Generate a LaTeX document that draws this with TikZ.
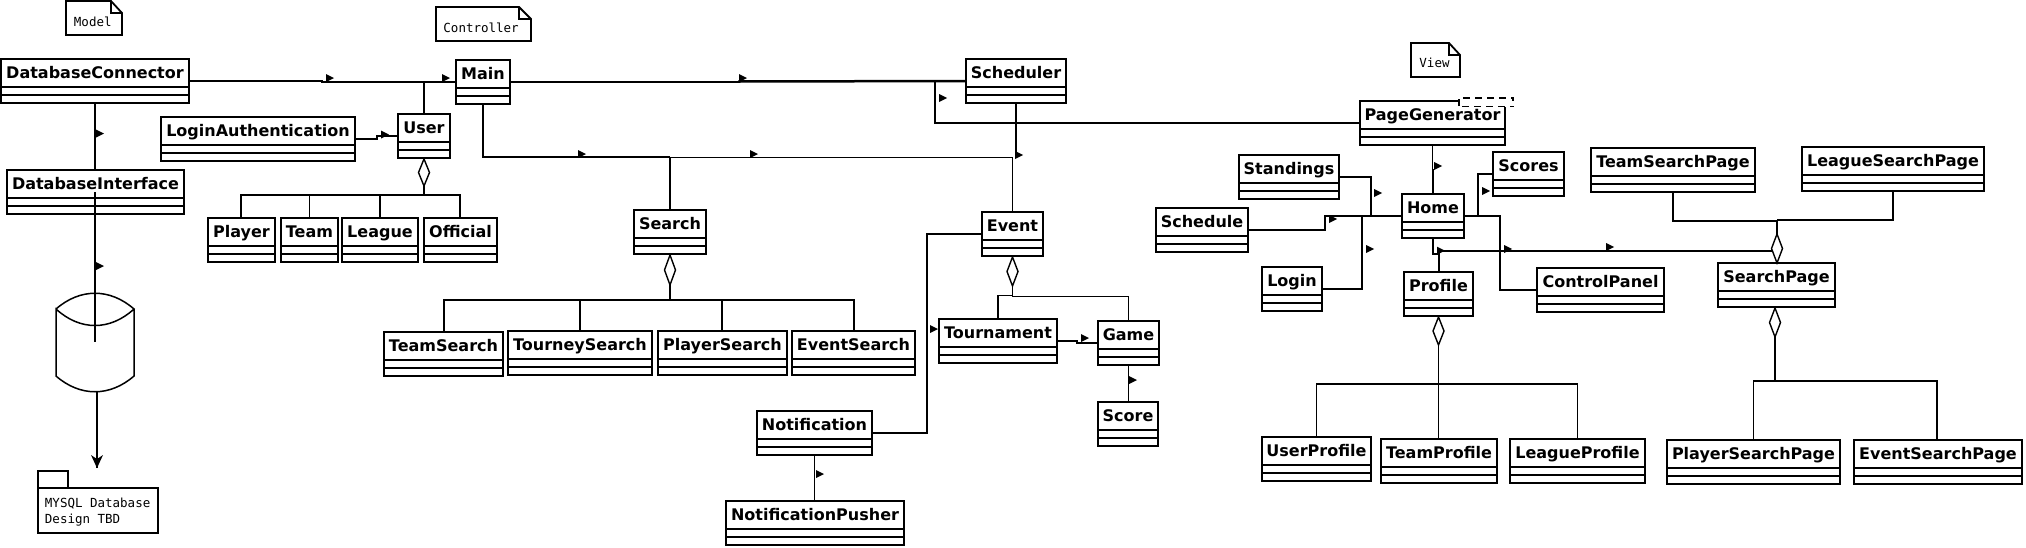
\documentclass[tikz,border=0pt]{standalone}
\usepackage{fontspec}
\setmainfont{DejaVu Sans}
\setmonofont{DejaVu Sans Mono}
\tikzset{
  x=1pt,y=-1pt,
  every path/.style={line width=1.9pt,line join=miter},
  shell/.style={draw,rectangle,inner sep=0pt,outer sep=0pt,line width=1.9pt},
  titletext/.style={inner sep=0pt,anchor=base,font=\fontsize{16}{18}\selectfont\bfseries},
  monotext/.style={inner sep=0pt,anchor=base west,font=\fontsize{12.5}{14}\selectfont\ttfamily},
  link/.style={draw,line width=1.9pt},
  heavylink/.style={draw,line width=2.5pt},
  dia/.style={draw,fill=white,line width=1.4pt},
}
% class box: name, x1, y1, x2, y2, title
\newcommand{\umlclass}[6]{%
  \pgfmathsetmacro{\cxx}{(#2+#4)/2}%
  \pgfmathsetmacro{\cyy}{(#3+#5)/2}%
  \pgfmathsetmacro{\wdd}{#4-#2}%
  \pgfmathsetmacro{\htt}{#5-#3}%
  \pgfmathsetmacro{\lna}{#3+28}%
  \pgfmathsetmacro{\lnb}{#3+36}%
  \pgfmathsetmacro{\bas}{#3+19}%
  \node[shell,minimum width=\wdd pt,minimum height=\htt pt] (#1) at (\cxx,\cyy) {};
  \draw[line width=1.9pt] (#2,\lna) -- (#4,\lna) (#2,\lnb) -- (#4,\lnb);
  \node[titletext] (#1-t) at (\cxx,\bas) {#6};
}
% small association arrowhead
\newcommand{\tip}[2]{\fill (#1-4,#2-4) -- (#1+4,#2) -- (#1-4,#2+4) -- cycle;}
% aggregation diamond: cx, top y, bottom y
\newcommand{\aggr}[3]{\pgfmathsetmacro{\ymm}{(#2+#3)/2}\draw[dia] (#1,#2) -- (#1+5.5,\ymm) -- (#1,#3) -- (#1-5.5,\ymm) -- cycle;}
% note: x1,y1,x2,y2,fold x,fold y
\newcommand{\umlnote}[6]{\draw[line width=1.8pt] (#1,#2) -- (#5,#2) -- (#3,#6) -- (#3,#4) -- (#1,#4) -- cycle (#5,#2) -- (#5,#6) -- (#3,#6);}
\begin{document}
\begin{tikzpicture}
\useasboundingbox (0,0) rectangle (2026,547);
% notes
\umlnote{66}{1}{122}{35}{111}{13}
\node[monotext] (nmodel) at (73,26) {Model};
\umlnote{436}{7}{531}{41}{519}{19}
\node[monotext] (nctrl) at (442.5,32) {Controller};
\umlnote{1411}{43}{1460}{77}{1449}{55}
\node[monotext] (nview) at (1418.5,67) {View};
% classes
\umlclass{dc}{1}{59}{189}{103}{DatabaseConnector}
\umlclass{di}{7}{170}{184}{214}{DatabaseInterface}
\umlclass{la}{161}{117}{355}{161}{LoginAuthentication}
\umlclass{user}{398}{114}{450}{158}{User}
\umlclass{main}{456}{60}{510}{104}{Main}
\umlclass{player}{208}{218}{275}{262}{Player}
\umlclass{team}{281}{218}{338}{262}{Team}
\umlclass{league}{342}{218}{418}{262}{League}
\umlclass{official}{424}{218}{497}{262}{Official}
\umlclass{search}{634}{210}{706}{254}{Search}
\umlclass{teams}{384}{332}{503}{376}{TeamSearch}
\umlclass{tourneys}{508}{331}{652}{375}{TourneySearch}
\umlclass{players}{658}{331}{787}{375}{PlayerSearch}
\umlclass{events}{792}{331}{915}{375}{EventSearch}
\umlclass{sched}{966}{59}{1066}{103}{Scheduler}
\umlclass{event}{982}{212}{1043}{256}{Event}
\umlclass{tourn}{939}{319}{1057}{363}{Tournament}
\umlclass{game}{1098}{321}{1159}{365}{Game}
\umlclass{score}{1098}{402}{1158}{446}{Score}
\umlclass{notif}{757}{411}{872}{455}{Notification}
\umlclass{pusher}{726}{501}{904}{545}{NotificationPusher}
\umlclass{pagegen}{1360}{101}{1505}{145}{PageGenerator}
\umlclass{stand}{1239}{155}{1339}{199}{Standings}
\umlclass{schedule}{1156}{208}{1248}{252}{Schedule}
\umlclass{login}{1262}{267}{1322}{311}{Login}
\umlclass{home}{1402}{194}{1464}{238}{Home}
\umlclass{profile}{1404}{272}{1473}{316}{Profile}
\umlclass{scores}{1493}{152}{1564}{196}{Scores}
\umlclass{cpanel}{1537}{268}{1664}{312}{ControlPanel}
\umlclass{tsp}{1591}{148}{1755}{192}{TeamSearchPage}
\umlclass{lsp}{1802}{147}{1984}{191}{LeagueSearchPage}
\umlclass{sp}{1718}{263}{1835}{307}{SearchPage}
\umlclass{up}{1262}{437}{1371}{481}{UserProfile}
\umlclass{tp}{1381}{439}{1497}{483}{TeamProfile}
\umlclass{lp}{1510}{439}{1645}{483}{LeagueProfile}
\umlclass{psp}{1667}{440}{1840}{484}{PlayerSearchPage}
\umlclass{esp}{1854}{440}{2022}{484}{EventSearchPage}
% database cylinder
\draw[line width=1.5pt] (56,309) .. controls (80,288) and (110,288) .. (134,309) .. controls (110,331) and (80,331) .. (56,309) -- (56,376) .. controls (80,397) and (110,397) .. (134,376) -- (134,309);
\coordinate (dbin) at (95,342);
\coordinate (dbout) at (97,392);
% package
\draw[line width=1.8pt] (38,488) -- (38,471) -- (68,471) -- (68,488);
\node[shell,minimum width=120pt,minimum height=45pt] (pkg) at (98,510.5) {};
\node[monotext] (pkg1) at (44,507.5) {MYSQL Database};
\node[monotext] (pkg2) at (44,523.5) {Design TBD};
\coordinate (pkgtop) at (97,468);
% connectors: left
\path[link] (dc.south) -- (dc.south |- di.north);
\path[link] (95,192) -- (dbin);
\path[link] (dbout) -- (pkgtop);
\fill (pkgtop) -- (91,455) -- (97,459) -- (103,455) -- cycle;
\tip{100}{133.5} \tip{100}{266}
\path[link] (dc.east) -- (322,81) -- (322,82) -- (main.west);
\path[link] (424,82) -- (user.north);
\tip{330}{78} \tip{446}{78}
\path[link] (la.east) -- (377,139) -- (377,136) -- (user.west);
\tip{385}{134.5}
\path[link] (user.south) -- (424,195);
\path[link] (241,218) -- (241,195) -- (460,195) -- (460,218);
\path[link] (team.north) -- (team.north |- 0,195);
\path[link] (league.north) -- (league.north |- 0,195);
\aggr{424}{159}{186}
% Main
\path[link] (main.east) -- (738,82);
\path[heavylink] (738,81.5) -- (sched.west);
\tip{743}{78}
\path[heavylink] (main.south) -- (483,157) -- (670,157);
\path[link] (670,157.5) -- (event.north |- 0,157.5) -- (event.north);
\path[link] (670,157) -- (search.north);
\tip{582}{154} \tip{754}{154}
\path[heavylink] (sched.south) -- (1016,155);
\tip{1019}{155}
\path[link] (pagegen.west) -- (935,123) -- (935,81);
\tip{943}{98}
% Search
\path[link] (search.south) -- (670,300);
\path[link] (444,332) -- (444,300) -- (854,300) -- (854,331);
\path[link] (580,300) -- (tourneys.north);
\path[link] (722,300) -- (722,331);
\aggr{670}{255}{285}
% Event
\path[link] (event.south) -- (event.south |- 0,296);
\path[link] (tourn.north) -- (998,295.5) -- (1012.5,295.5) -- (1012.5,296.5) -- (game.north |- 0,296.5) -- (game.north);
\aggr{1012.5}{257}{286}
\path[link] (notif.east) -- (927,433) -- (927,234) -- (event.west);
\tip{934}{329}
\path[link] (notif.south) -- (notif.south |- pusher.north);
\tip{820}{474}
\path[link] (tourn.east) -- (1077,341) -- (1077,343) -- (game.west);
\tip{1085}{338}
\path[link] (game.south) -- (game.south |- score.north);
\tip{1133}{380}
% View
\fill[white] (1459,98) rectangle (1514,106.5);
\draw[line width=1.9pt,dash pattern=on 7pt off 5pt] (1459,106) -- (1459,98) -- (1514,98);
\draw[line width=1.9pt,dash pattern=on 7pt off 5pt] (1462,106.5) -- (1514,106.5);
\draw[line width=1.9pt] (1513,98) -- (1513,101);
\path[link] (pagegen.south) -- (pagegen.south |- 0,170) -- (home.north |- 0,170) -- (home.north);
\tip{1438}{166}
\path[link] (stand.east) -- (1371,177) -- (1371,216) -- (home.west);
\tip{1378}{193}
\path[link] (schedule.east) -- (1325,230) -- (1325,216) -- (1402,216);
\tip{1333}{219}
\path[link] (login.east) -- (1362,289) -- (1362,216);
\tip{1370}{249}
\path[link] (home.east) -- (1500,216) -- (1500,290) -- (cpanel.west);
\path[link] (1478,216) -- (1478,174) -- (scores.west);
\tip{1486}{191}
\path[link] (home.south) -- (1433,254) -- (1439,254) -- (1439,272);
\path[link] (1439,250.7) -- (1772,250.7);
\tip{1441}{250.7} \tip{1508}{249} \tip{1610}{247}
% search pages
\path[link] (1777,263) -- (1777,220);
\path[link] (tsp.south) -- (tsp.south |- 0,221) -- (1777,221);
\path[link] (lsp.south) -- (lsp.south |- 0,220) -- (1777,220);
\aggr{1777}{234}{263}
\path[link] (1775,0 |- sp.south) -- (1775,381);
\path[link] (psp.north) -- (psp.north |- 0,381) -- (1937,381) -- (1937,440);
\aggr{1775}{308}{337}
% profile
\path[link] (profile.south) -- (profile.south |- tp.north);
\path[link] (up.north) -- (up.north |- 0,384) -- (lp.north |- 0,384) -- (lp.north);
\aggr{1438.5}{317}{345}
\end{tikzpicture}
\end{document}
